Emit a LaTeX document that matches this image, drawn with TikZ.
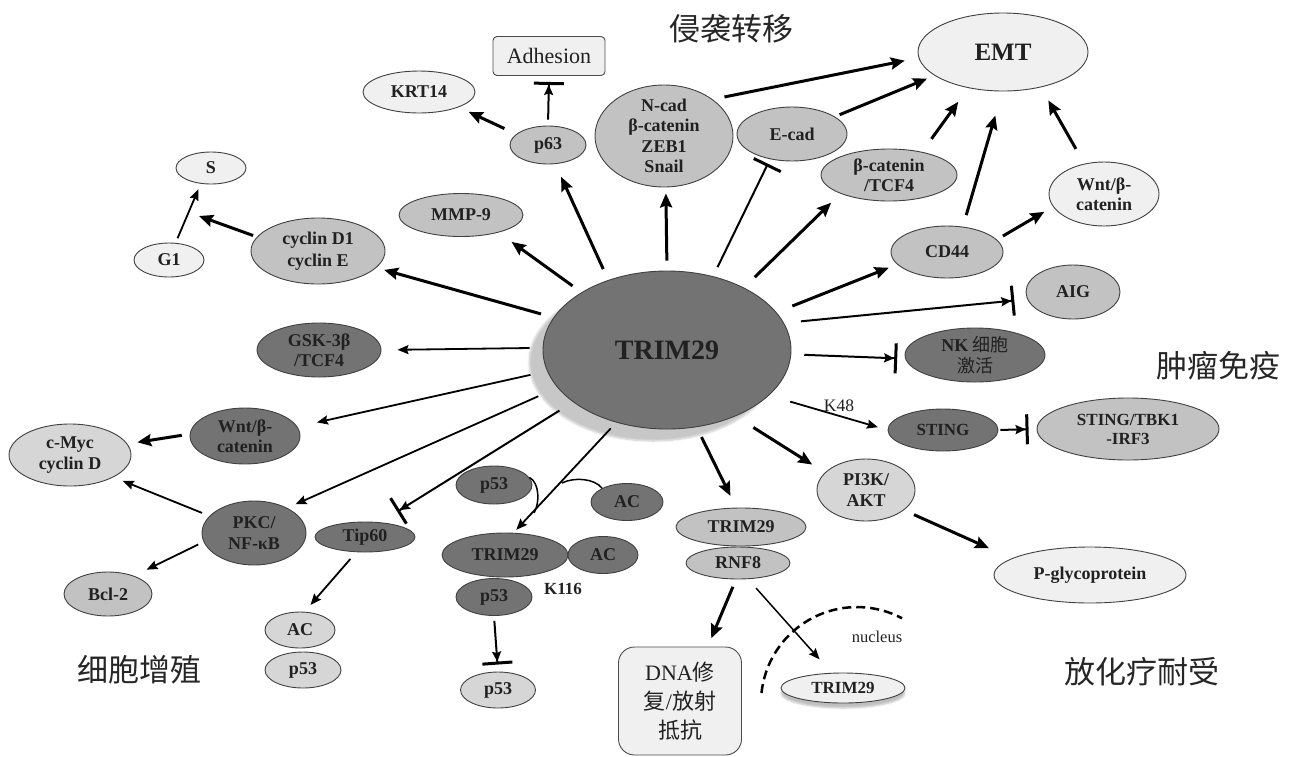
\documentclass[tikz,border=0pt]{standalone}
\usepackage{fontspec}
\setmainfont{Liberation Serif}
\newfontfamily\cjk{Noto Sans CJK SC}
\usepackage{xcolor}
\usepackage{tikz}
\usetikzlibrary{arrows.meta,calc,shapes.geometric,shadows.blur}

\definecolor{nodedark}{gray}{0.45}
\definecolor{nodemid}{gray}{0.76}
\definecolor{nodesoft}{gray}{0.84}
\definecolor{nodelight}{gray}{0.94}
\definecolor{inkgray}{gray}{0.13}

\tikzset{
  prot/.style={ellipse, draw=black!75, line width=0.9pt, inner sep=0pt, align=center,
    text=inkgray, font=\fontsize{18}{20.5}\selectfont\bfseries},
  sz/.style 2 args={minimum width=#1pt, minimum height=#2pt},
  pdark/.style={prot, fill=nodedark},
  pmid/.style={prot, fill=nodemid},
  psoft/.style={prot, fill=nodesoft},
  plight/.style={prot, fill=nodelight},
  smallprot/.style={font=\fontsize{17}{19}\selectfont\bfseries},
  boxed/.style={rectangle, draw=black!70, line width=0.9pt, fill=nodelight, align=center,
    text=inkgray, inner sep=0pt},
  section/.style={font=\cjk\fontsize{31}{31}\selectfont, text=black!85, inner sep=0pt},
  tag/.style={font=\fontsize{17}{18}\selectfont, text=inkgray, inner sep=0pt},
  heavy/.style={line width=3pt, -{Stealth[length=14pt,width=12pt,inset=2pt]}},
  fine/.style={line width=1.8pt, -{Stealth[length=11pt,width=9pt,inset=1.5pt]}},
  block/.style={line width=2pt, -{Bar[width=30pt,line width=3pt]}},
  stopper/.style={line width=2pt, -{Stealth[length=10pt,width=9pt,inset=1.5pt] Bar[width=30pt,line width=3pt]}},
  curl/.style={line width=1.5pt},
}

\begin{document}
\begin{tikzpicture}[x=1pt,y=-1pt]
  \useasboundingbox (0,0) rectangle (1293,756);

  % section titles
  \node[section] (invasion) at (731,29)   {侵袭转移};
  \node[section] (immunity) at (1218,366) {肿瘤免疫};
  \node[section] (prolif)   at (139,670)  {细胞增殖};
  \node[section] (resist)   at (1142,672) {放化疗耐受};

  % hub
  \node[pdark, sz={248}{158}, font=\fontsize{28}{30}\selectfont\bfseries,
    blur shadow={shadow xshift=-14pt, shadow yshift=-12pt, shadow opacity=22, shadow blur steps=8}]
    (trim) at (667,350) {TRIM29};

  % invasion / EMT
  \node[plight, sz={170}{78}, font=\fontsize{25}{27}\selectfont\bfseries] (emt) at (1003,52) {EMT};
  \node[boxed, rounded corners=4pt, minimum width=112pt, minimum height=39pt,
    font=\fontsize{22}{24}\selectfont] (adh) at (549,56) {Adhesion};
  \node[plight, sz={112}{42}] (krt) at (419,92) {KRT14};
  \node[pmid, sz={76}{38}] (p63) at (548,145) {p63};
  \node[pmid, sz={138}{102}, inner ysep=-6pt] (ncad) at (664,136) {N-cad\\β-catenin\\ZEB1\\Snail};
  \node[pmid, sz={110}{54}] (ecad) at (792,134) {E-cad};
  \node[pmid, sz={136}{52}] (bcat) at (889,175) {β-catenin\\/TCF4};
  \node[plight, sz={110}{64}] (wntr) at (1104,194) {Wnt/β-\\catenin};
  \node[pmid, sz={112}{52}] (cd44) at (947,252) {CD44};
  \node[pmid, sz={124}{43}] (mmp) at (461,215) {MMP-9};

  % immunity
  \node[pmid, sz={94}{54}] (aig) at (1073,292) {AIG};
  \node[pdark, sz={140}{54}] (nk) at (975,355) {NK {\cjk\mdseries 细胞}\\{\cjk\mdseries 激活}};
  \node[pdark, sz={110}{42}, smallprot] (sting) at (943,430) {STING};
  \node[pmid, sz={182}{62}, smallprot] (tbk) at (1128,429) {STING/TBK1\\-IRF3};
  \node[tag, font=\fontsize{17.5}{18}\selectfont] (k48) at (839,406) {K48};

  % proliferation
  \node[plight, sz={70}{32}] (s) at (211,168) {S};
  \node[plight, sz={70}{34}] (g1) at (169,260) {G1};
  \node[pmid, sz={134}{66}, font=\fontsize{18}{22.5}\selectfont\bfseries] (cyclin) at (318,251) {cyclin D1\\cyclin E};
  \node[pdark, sz={124}{54}] (gsk) at (319,350) {GSK-3β\\/TCF4};
  \node[pdark, sz={110}{56}] (wntl) at (245,436) {Wnt/β-\\catenin};
  \node[psoft, sz={122}{62}] (cmyc) at (70,455) {c-Myc\\cyclin D};
  \node[pdark, sz={104}{64}] (pkc) at (254,533) {PKC/\\NF-κB};
  \node[pdark, sz={100}{30}] (tip) at (365,537) {Tip60};
  \node[pmid, sz={88}{44}] (bcl) at (108,594) {Bcl-2};
  \node[psoft, sz={70}{36}] (aca) at (300,630) {AC};
  \node[psoft, sz={76}{36}] (p53a) at (303,670) {p53};

  % p53 acetylation complex
  \node[pdark, sz={76}{38}] (p53top) at (494,485) {p53};
  \node[pdark, sz={72}{37}] (actop) at (627,502) {AC};
  \node[pdark, sz={126}{44}] (trimsm) at (505,555) {TRIM29};
  \node[pdark, sz={70}{37}] (acsm) at (603,555) {AC};
  \node[pdark, sz={76}{37}] (p53mid) at (494,597) {p53};
  \node[tag, font=\fontsize{17}{18}\selectfont\bfseries] (k116) at (563,589) {K116};
  \node[psoft, sz={75}{36}] (p53bot) at (498,690) {p53};

  % resistance
  \node[psoft, sz={98}{62}] (pik) at (866,490) {PI3K/\\AKT};
  \node[plight, sz={192}{56}] (pgly) at (1090,575) {P-glycoprotein};
  \node[pmid, sz={130}{38}] (trimr) at (741,527) {TRIM29};
  \node[pmid, sz={104}{32}] (rnf) at (738,563) {RNF8};
  \node[boxed, rounded corners=16pt, minimum width=123pt, minimum height=108pt,
    font=\fontsize{22}{29}\selectfont] (dna) at (680,701)
    {DNA{\cjk 修}\\{\cjk 复}/{\cjk 放射}\\{\cjk 抵抗}};
  \node[plight, sz={124}{30}, smallprot,
    blur shadow={shadow xshift=0pt, shadow yshift=-5pt, shadow opacity=25}]
    (trimnuc) at (843,688) {TRIM29};
  \node[tag, font=\fontsize{16.5}{18}\selectfont] (nuc) at (877,637) {nucleus};
  \coordinate (nucedge) at (761.5,693);

  % spokes from TRIM29
  \draw[heavy, shorten <=13pt, shorten >=8pt] (trim.164) -- (cyclin.344);
  \draw[heavy, shorten <=11pt, shorten >=16pt] (trim.146) -- (mmp.-25);
  \draw[heavy, shorten <=12pt, shorten >=14pt] (trim.130) -- (p63.-69);
  \draw[heavy, shorten <=10pt, shorten >=6pt] (trim.90) -- (ncad.-88);
  \draw[block, shorten <=10pt, shorten >=5pt] (trim.58) -- (ecad.229);
  \draw[heavy, shorten <=15pt, shorten >=13pt] (trim.39) -- (bcat.201);
  \draw[heavy, shorten <=17pt, shorten >=9pt] (trim.19) -- (cd44.194);
  \draw[stopper, shorten <=17pt, shorten >=13pt] (trim.13) -- (aig.189);
  \draw[stopper, shorten <=13pt, shorten >=8pt] (trim.-2) -- (nk.183);
  \draw[fine, shorten <=22pt, shorten >=10pt] (trim.-24) -- (sting.west);
  \draw[heavy, shorten <=21pt, shorten >=15pt] (trim.-44) -- (pik.157);
  \draw[heavy, shorten <=11pt, shorten >=13pt] (trim.-69) -- (trimr.104);
  \draw[fine, shorten <=8pt, shorten >=4pt] (trim.235) -- (trimsm.69);
  \draw[stopper, shorten <=16pt, shorten >=20pt] (trim.209) -- (tip.44);
  \draw[fine, shorten <=21pt, shorten >=9pt] (trim.199) -- (pkc.37);
  \draw[fine, shorten <=17pt, shorten >=20pt] (trim.190) -- (wntl.10);
  \draw[fine, shorten <=13pt, shorten >=16pt] (trim.179) -- (gsk.0);

  % EMT branch
  \draw[heavy, shorten <=12pt, shorten >=14pt] (ncad.37) -- (emt.184);
  \draw[heavy, shorten <=5pt, shorten >=8pt] (ecad.22) -- (emt.199);
  \draw[heavy, shorten <=16pt, shorten >=17pt] (bcat.35) -- (emt.226);
  \draw[heavy, shorten <=12pt, shorten >=25pt] (cd44.58) -- (emt.269);
  \draw[heavy, shorten <=17pt, shorten >=15pt] (wntr.123) -- (emt.317);
  \draw[heavy, shorten <=7pt, shorten >=10pt] (cd44.14) -- (wntr.194);
  \draw[heavy, shorten <=13pt, shorten >=11pt] (p63.161) -- (krt.-21);
  \draw[stopper, shorten <=6pt, shorten >=6pt] (p63.north) -- (adh.south);

  % cell cycle and proliferation
  \coordinate (cellcycle) at ($(g1)!0.5!(s)+(9,2)$);
  \draw[heavy, shorten <=4pt] (cyclin.167) -- (cellcycle);
  \draw[fine, shorten <=5pt, shorten >=6pt] (g1.69) -- (s.237);
  \draw[heavy, shorten <=8pt, shorten >=10pt] (wntl.178) -- (cmyc.11);
  \draw[fine, shorten <=8pt, shorten >=10pt] (pkc.159) -- (cmyc.-27);
  \draw[fine, shorten <=6pt, shorten >=14pt] (pkc.190) -- (bcl.35);
  \draw[fine, shorten <=9pt, shorten >=9pt] (tip.240) -- (aca.76);
  \draw[stopper, shorten <=5pt, shorten >=7pt] (p53mid.south) -- (p53bot.north);

  \coordinate (p53tail) at (534,513);
  \coordinate (actail) at (562,483);
  \draw[curl] (p53top.12) .. controls +(10,5) and +(6,-10) .. (p53tail);
  \draw[curl] (actop.151) .. controls +(-8,-10) and +(12,-6) .. (actail);

  % immunity and resistance
  \draw[stopper, shorten <=2pt, shorten >=8pt] (sting.east) -- (tbk.west);
  \draw[heavy, shorten <=11pt, shorten >=25pt] (pik.-28) -- (pgly.168);
  \draw[heavy, shorten <=8pt, shorten >=9pt] (rnf.263) -- (dna.63);
  \draw[fine, line width=1.5pt, shorten <=12pt, shorten >=18pt] (rnf.-58) -- (trimnuc.127);
  \draw[line width=2.5pt, dash pattern=on 9pt off 5pt] (nucedge) arc[start angle=186, end angle=298, radius=96];
\end{tikzpicture}
\end{document}
